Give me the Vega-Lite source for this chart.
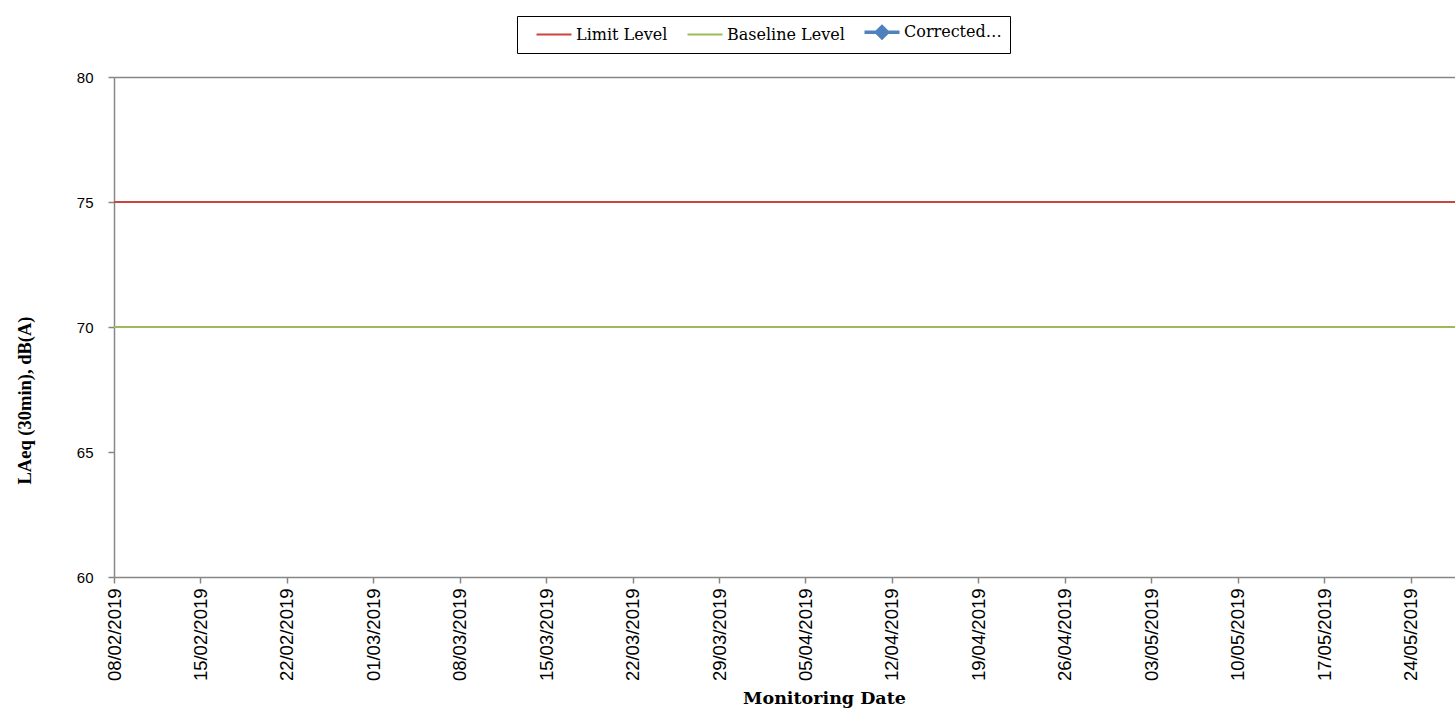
{
  "$schema": "https://vega.github.io/schema/vega-lite/v6.json",
  "width": 1341,
  "height": 500,
  "autosize": "none",
  "padding": {"left": 114, "top": 77, "right": 0, "bottom": 134},
  "background": "white",
  "config": {"view": {"stroke": null}},
  "data": {
    "values": [
      {"date": "2019-02-08", "series": "Limit Level", "level": 75},
      {"date": "2019-06-03", "series": "Limit Level", "level": 75},
      {"date": "2019-02-08", "series": "Baseline Level", "level": 70},
      {"date": "2019-06-03", "series": "Baseline Level", "level": 70}
    ]
  },
  "mark": {"type": "line", "strokeWidth": 2, "clip": true},
  "encoding": {
    "x": {
      "field": "date",
      "type": "temporal",
      "scale": {
        "type": "utc",
        "domain": [
          {"year": 2019, "month": 2, "date": 8, "utc": true},
          {"year": 2019, "month": 5, "date": 27, "hours": 14, "minutes": 24, "utc": true}
        ]
      },
      "axis": {
        "values": [
          {"year": 2019, "month": 2, "date": 8, "utc": true},
          {"year": 2019, "month": 2, "date": 15, "utc": true},
          {"year": 2019, "month": 2, "date": 22, "utc": true},
          {"year": 2019, "month": 3, "date": 1, "utc": true},
          {"year": 2019, "month": 3, "date": 8, "utc": true},
          {"year": 2019, "month": 3, "date": 15, "utc": true},
          {"year": 2019, "month": 3, "date": 22, "utc": true},
          {"year": 2019, "month": 3, "date": 29, "utc": true},
          {"year": 2019, "month": 4, "date": 5, "utc": true},
          {"year": 2019, "month": 4, "date": 12, "utc": true},
          {"year": 2019, "month": 4, "date": 19, "utc": true},
          {"year": 2019, "month": 4, "date": 26, "utc": true},
          {"year": 2019, "month": 5, "date": 3, "utc": true},
          {"year": 2019, "month": 5, "date": 10, "utc": true},
          {"year": 2019, "month": 5, "date": 17, "utc": true},
          {"year": 2019, "month": 5, "date": 24, "utc": true}
        ],
        "labelExpr": "utcFormat(datum.value, '%d/%m/%Y')",
        "labelAngle": -90,
        "labelAlign": "right",
        "labelBaseline": "middle",
        "labelFont": "Liberation Sans",
        "labelFontSize": 18.5,
        "labelColor": "black",
        "labelPadding": 5,
        "labelOverlap": false,
        "labelFlush": false,
        "tickSize": 6,
        "tickColor": "#878787",
        "tickWidth": 1.5,
        "domainColor": "#878787",
        "domainWidth": 1.5,
        "grid": false,
        "title": "Monitoring Date",
        "titleFont": "DejaVu Serif",
        "titleFontWeight": "bold",
        "titleFontSize": 17.5,
        "titleColor": "black",
        "titleX": 710,
        "titleY": 126,
        "titleAlign": "center",
        "titleBaseline": "alphabetic"
      }
    },
    "y": {
      "field": "level",
      "type": "quantitative",
      "scale": {"domain": [60, 80], "nice": false, "zero": false},
      "axis": {
        "values": [60, 65, 70, 75, 80],
        "labelFont": "Liberation Sans",
        "labelFontSize": 15,
        "labelColor": "black",
        "labelPadding": 15,
        "tickSize": 6,
        "tickColor": "#878787",
        "tickWidth": 1.5,
        "domainColor": "#878787",
        "domainWidth": 1.5,
        "grid": true,
        "gridColor": "#878787",
        "gridWidth": 1.5,
        "gridOpacity": {"condition": {"test": "datum.value === 80", "value": 1}, "value": 0},
        "title": "LAeq (30min), dB(A)",
        "titleFont": "Liberation Serif",
        "titleFontWeight": "bold",
        "titleFontSize": 18.5,
        "titleColor": "black",
        "titleAngle": -90,
        "titleX": -90,
        "titleY": 323,
        "titleAlign": "center",
        "titleBaseline": "middle"
      }
    },
    "color": {
      "field": "series",
      "type": "nominal",
      "scale": {
        "domain": ["Limit Level", "Baseline Level", "Corrected…"],
        "range": ["#C8463F", "#9BBB59", "#4F81BD"]
      },
      "legend": {
        "orient": "none",
        "legendX": 403,
        "legendY": -61,
        "direction": "horizontal",
        "title": null,
        "strokeColor": "black",
        "fillColor": "white",
        "padding": 8,
        "symbolType": "stroke",
        "symbolSize": 1225,
        "symbolStrokeWidth": 2,
        "symbolOffset": 21,
        "labelFont": "DejaVu Serif",
        "labelFontSize": 16,
        "labelColor": "black",
        "labelOffset": 14,
        "labelLimit": 300,
        "columnPadding": 8,
        "encode": {
          "symbols": {
            "update": {
              "shape": {"signal": "datum.value === 'Corrected…' ? 'M-1,0H1M-0.32,0L0,-0.32L0.32,0L0,0.32Z' : 'stroke'"},
              "strokeWidth": {"signal": "datum.value === 'Corrected…' ? 3.5 : 2"},
              "fill": {"signal": "datum.value === 'Corrected…' ? '#4F81BD' : 'transparent'"}
            }
          }
        }
      }
    }
  }
}
